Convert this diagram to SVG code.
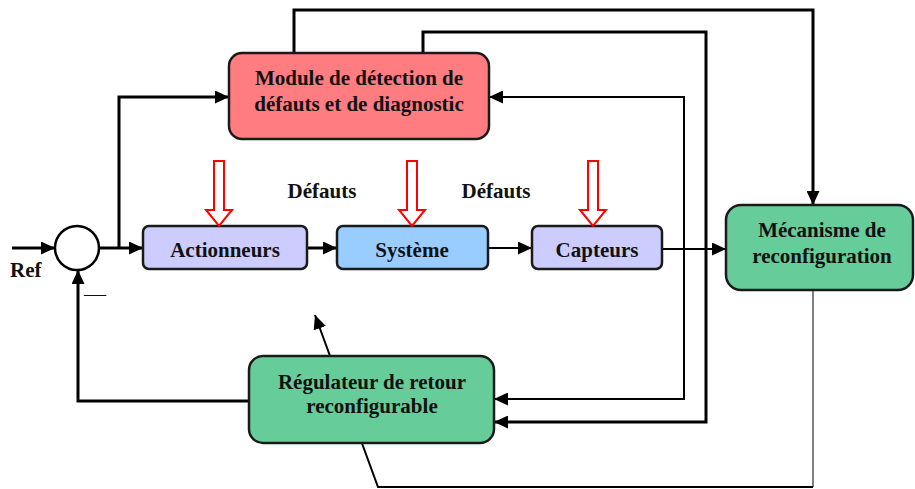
<svg xmlns="http://www.w3.org/2000/svg" width="915" height="489" viewBox="0 0 915 489">
  <defs>
    <marker id="arrow" markerUnits="userSpaceOnUse" markerWidth="14" markerHeight="13" refX="14" refY="6.5" orient="auto">
      <path d="M0,0 L14,6.5 L0,13 z" fill="#000"/>
    </marker>
    <style>
      .box { stroke: #1a1a1a; stroke-width: 2.5; }
      .lbl { font-family: "Liberation Serif", "Times New Roman", serif; font-weight: bold; font-size: 21px; fill: #111; text-anchor: middle; }
      .wire { fill: none; stroke: #000; stroke-width: 3; }
      .thin { fill: none; stroke: #000; stroke-width: 2; }
      .hair { fill: none; stroke: #555; stroke-width: 1.5; }
      .fault { fill: #fff; stroke: #f00; stroke-width: 2; }
    </style>
  </defs>

  <rect width="915" height="489" fill="#fff"/>

  <!-- connectors -->
  <g id="connectors">
    <!-- reference input into summing junction -->
    <path class="wire" d="M12,248 H55" marker-end="url(#arrow)"/>
    <!-- junction output to actuators, with branch to detection module -->
    <path class="wire" d="M99,248 H143" marker-end="url(#arrow)"/>
    <path class="wire" d="M119,248 V97 H229" marker-end="url(#arrow)"/>
    <!-- actuators -> system -> sensors -->
    <path class="wire" d="M307,248 H337" marker-end="url(#arrow)"/>
    <path class="thin" d="M488,248 H532" marker-end="url(#arrow)"/>
    <!-- sensors -> reconfiguration mechanism -->
    <path class="thin" d="M662,249 H726" marker-end="url(#arrow)"/>
    <!-- detection module -> reconfiguration mechanism -->
    <path class="wire" d="M294,53 V10 H813 V205" marker-end="url(#arrow)"/>
    <!-- detection module -> reconfigurable controller -->
    <path class="wire" d="M423,53 V32 H706 V422 H494" marker-end="url(#arrow)"/>
    <!-- sensor feedback to module and controller -->
    <path class="thin" d="M684,249 V97 H489" marker-end="url(#arrow)"/>
    <path class="thin" d="M684,249 V399 H494" marker-end="url(#arrow)"/>
    <!-- controller output back to summing junction -->
    <path class="wire" d="M249,401 H78 V270" marker-end="url(#arrow)"/>
    <!-- reconfiguration command through the controller -->
    <path class="hair" d="M813,290 V487"/>
    <path class="thin" d="M813,487 H378 L315,315" marker-end="url(#arrow)"/>
  </g>

  <!-- summing junction -->
  <g id="sum">
    <circle cx="77" cy="248" r="22" fill="#fff" stroke="#000" stroke-width="2.5"/>
    <text class="lbl" x="10" y="277" style="text-anchor:start">Ref</text>
    <text class="lbl" x="95" y="301" style="font-weight:normal;font-size:22px">—</text>
  </g>

  <g id="detection">
    <rect class="box" x="229" y="53" width="260" height="86" rx="13" fill="#FF7C80"/>
    <text class="lbl" x="359" y="85">Module de détection de</text>
    <text class="lbl" x="359" y="111">défauts et de diagnostic</text>
  </g>

  <g id="actionneurs">
    <rect class="box" x="143" y="226" width="164" height="43" rx="6" fill="#CCCCFF"/>
    <text class="lbl" x="225" y="257">Actionneurs</text>
  </g>

  <g id="systeme">
    <rect class="box" x="337" y="226" width="151" height="43" rx="6" fill="#99CCFF"/>
    <text class="lbl" x="412" y="257">Système</text>
  </g>

  <g id="capteurs">
    <rect class="box" x="532" y="226" width="130" height="43" rx="6" fill="#CCCCFF"/>
    <text class="lbl" x="597" y="257">Capteurs</text>
  </g>

  <g id="mecanisme">
    <rect class="box" x="726" y="205" width="187" height="85" rx="15" fill="#66CC99"/>
    <text class="lbl" x="822" y="237">Mécanisme de</text>
    <text class="lbl" x="822" y="263">reconfiguration</text>
  </g>

  <g id="regulateur">
    <rect class="box" x="249" y="356" width="245" height="87" rx="14" fill="#66CC99"/>
    <text class="lbl" x="372" y="389">Régulateur de retour</text>
    <text class="lbl" x="372" y="413">reconfigurable</text>
  </g>

  <!-- fault injections -->
  <g id="faults">
    <path class="fault" d="M214,161 H224 V210 H232 L219,226 L206,210 H214 z"/>
    <path class="fault" d="M407,161 H417 V210 H425 L412,226 L399,210 H407 z"/>
    <path class="fault" d="M588,161 H598 V210 H606 L593,226 L580,210 H588 z"/>
    <text class="lbl" x="322" y="198">Défauts</text>
    <text class="lbl" x="496" y="198">Défauts</text>
  </g>
</svg>
